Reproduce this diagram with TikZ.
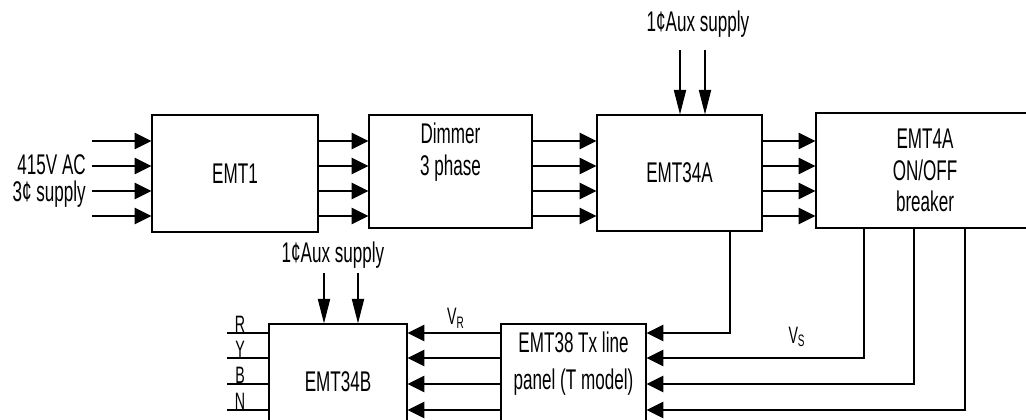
\documentclass[tikz,border=0pt]{standalone}
\usepackage{fontspec}
\setmainfont[FakeStretch=0.6]{Liberation Sans}
\usepackage{tikz}
\usetikzlibrary{arrows.meta, positioning, calc}
\tikzset{
  block/.style  = {rectangle, draw, line width=0.7pt, inner sep=0pt, align=center},
  arrow/.style  = {line width=0.6pt, -{Triangle[length=9.6pt,width=9.4pt]}},
  varrow/.style = {line width=0.6pt, -{Triangle[length=14pt,width=7pt]}},
  wire/.style   = {line width=0.6pt},
  phase/.style  = {anchor=base, inner sep=0pt, font=\fontsize{13.5}{15}\selectfont},
  volt/.style   = {font=\fontsize{13.5}{15}\selectfont},
}

\begin{document}
\begin{tikzpicture}[x=0.2mm, y=-0.2mm, every node/.style={font=\fontsize{16.2}{18}\selectfont}]
    \path[use as bounding box, clip] (0,0) rectangle (1026,419);

    %% Blocks
    \node[block, minimum width=33.2mm, minimum height=23.4mm] (emt1)   at (235,173.5) {EMT1};
    \node[block, minimum width=32.6mm, minimum height=22.6mm] (dim)    at (450.5,171.5) {};
    \node[block, minimum width=33mm,   minimum height=23.2mm] (emt34a) at (679.5,173) {EMT34A};
    \node[block, minimum width=43.6mm, minimum height=23mm]   (emt4a)  at (925,170.5) {EMT4A\\ON/OFF\\breaker};
    \node[block, minimum width=27.6mm, minimum height=23.2mm] (emt34b) at (338,382) {EMT34B};
    \node[block, minimum width=29mm,   minimum height=24mm]   (tx)     at (573.5,384) {};
    \node[align=center] (dimtxt) at (450.5,152) {Dimmer\\3 phase};
    \node[align=center, font=\fontsize{16.2}{21}\selectfont] (txtxt) at (573.5,363.5) {EMT38 Tx line\\panel (T model)};

    %% Supply inputs
    \coordinate (in1) at (92,141);
    \coordinate (in2) at (92,166);
    \coordinate (in3) at (92,191);
    \coordinate (in4) at (92,216);
    \draw[arrow] (in1) -- (emt1.west |- in1);
    \draw[arrow] (in2) -- (emt1.west |- in2);
    \draw[arrow] (in3) -- (emt1.west |- in3);
    \draw[arrow] (in4) -- (emt1.west |- in4);
    \node[left, inner ysep=0pt] (ac)  at (92,164.5) {415V AC};
    \node[left, inner ysep=0pt] (sup) at (92,194) {3¢ supply};

    %% Three phase lines
    \draw[arrow] (emt1.east |- 0,141) -- (dim.west |- 0,141);
    \draw[arrow] (emt1.east |- 0,166) -- (dim.west |- 0,166);
    \draw[arrow] (emt1.east |- 0,191) -- (dim.west |- 0,191);
    \draw[arrow] (emt1.east |- 0,216) -- (dim.west |- 0,216);
    \draw[arrow] (dim.east |- 0,141) -- (emt34a.west |- 0,141);
    \draw[arrow] (dim.east |- 0,166) -- (emt34a.west |- 0,166);
    \draw[arrow] (dim.east |- 0,191) -- (emt34a.west |- 0,191);
    \draw[arrow] (dim.east |- 0,216) -- (emt34a.west |- 0,216);
    \draw[arrow] (emt34a.east |- 0,141) -- (emt4a.west |- 0,141);
    \draw[arrow] (emt34a.east |- 0,166) -- (emt4a.west |- 0,166);
    \draw[arrow] (emt34a.east |- 0,191) -- (emt4a.west |- 0,191);
    \draw[arrow] (emt34a.east |- 0,216) -- (emt4a.west |- 0,216);

    %% Aux supplies
    \coordinate (auxa1) at (680,50);
    \coordinate (auxa2) at (705,50);
    \draw[varrow] (auxa1) -- (auxa1 |- emt34a.north);
    \draw[varrow] (auxa2) -- (auxa2 |- emt34a.north);
    \node (auxa) at (698,24) {1¢Aux supply};
    \coordinate (auxb1) at (324,273);
    \coordinate (auxb2) at (358,273);
    \draw[varrow] (auxb1) -- (auxb1 |- emt34b.north);
    \draw[varrow] (auxb2) -- (auxb2 |- emt34b.north);
    \node (auxb) at (333,255) {1¢Aux supply};

    %% Sending end to line panel
    \draw[arrow] (emt34a.south -| 730,0) |- (tx.east |- 0,333);
    \draw[arrow] (emt4a.south -| 864,0) |- (tx.east |- 0,358);
    \draw[arrow] (emt4a.south -| 914,0) |- (tx.east |- 0,384);
    \draw[arrow] (emt4a.south -| 965,0) |- (tx.east |- 0,410);
    \node[volt] (vs) at (797,337) {V\textsubscript{S}};

    %% Receiving end
    \draw[arrow] (tx.west |- 0,333) -- (emt34b.east |- 0,333);
    \draw[arrow] (tx.west |- 0,358) -- (emt34b.east |- 0,358);
    \draw[arrow] (tx.west |- 0,384) -- (emt34b.east |- 0,384);
    \draw[arrow] (tx.west |- 0,410) -- (emt34b.east |- 0,410);
    \node[volt] (vr) at (456,318) {V\textsubscript{R}};

    %% Phase outputs
    \coordinate (pr) at (227,333);
    \coordinate (py) at (227,358);
    \coordinate (pb) at (227,384);
    \coordinate (pn) at (227,410);
    \draw[wire] (pr) -- (emt34b.west |- pr);
    \draw[wire] (py) -- (emt34b.west |- py);
    \draw[wire] (pb) -- (emt34b.west |- pb);
    \draw[wire] (pn) -- (emt34b.west |- pn);
    \node[phase] (rl) at (240,332) {R};
    \node[phase] (yl) at (240,357) {Y};
    \node[phase] (bl) at (240,383) {B};
    \node[phase] (nl) at (240,409) {N};

\end{tikzpicture}
\end{document}
